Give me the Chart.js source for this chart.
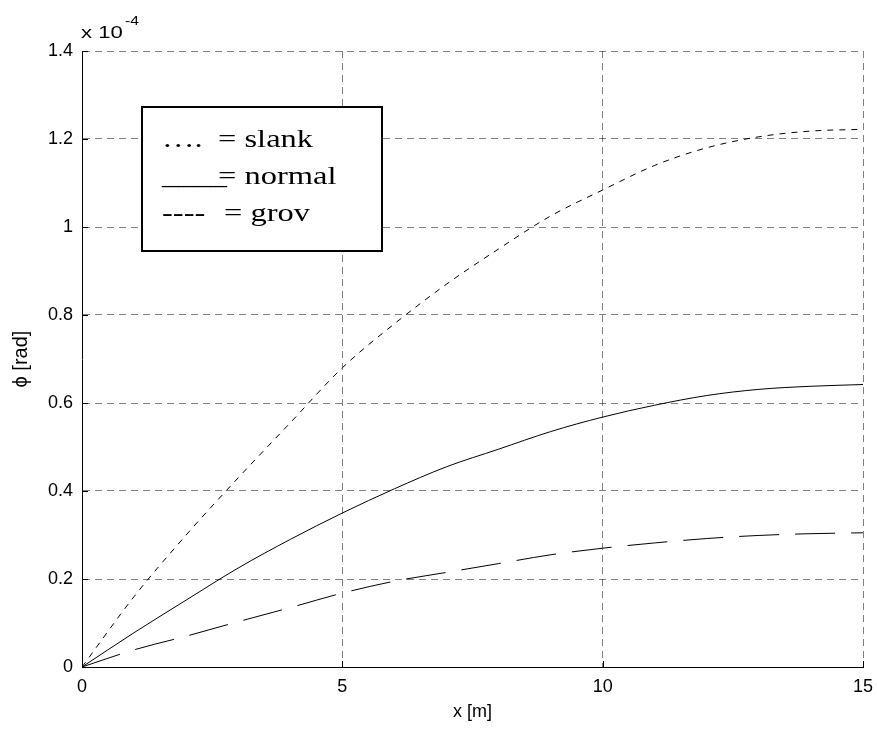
<!DOCTYPE html>
<html lang="en">
<head>
    <meta charset="UTF-8">
    <title>phi vs x</title>
    <script src="https://cdn.jsdelivr.net/npm/chart.js"></script>
    <style>
        html, body { margin: 0; padding: 0; background: #fff; }
        #wrap { width: 877px; height: 729px; }
    </style>
</head>
<body>
    <div id="wrap"><canvas id="phiChart" width="877" height="729"></canvas></div>

    <script>
        // x positions [m]
        var xValues = [0, 1, 2, 3, 4, 5, 6, 7, 8, 9, 10, 11, 12, 13, 14, 15];
        // rotation phi, in units of 1e-4 rad
        var slank  = [0, 0.16, 0.30, 0.43, 0.555, 0.68, 0.78, 0.87, 0.95, 1.025, 1.084, 1.14, 1.18, 1.205, 1.218, 1.222];
        var normal = [0, 0.078, 0.152, 0.225, 0.29, 0.35, 0.405, 0.455, 0.495, 0.535, 0.568, 0.595, 0.617, 0.631, 0.638, 0.642];
        var grov   = [0, 0.039, 0.07, 0.103, 0.135, 0.168, 0.195, 0.215, 0.235, 0.255, 0.27, 0.282, 0.292, 0.299, 0.303, 0.305];
        var yTicks = [0, 0.2, 0.4, 0.6, 0.8, 1, 1.2, 1.4];
        var xTicks = [0, 5, 10, 15];
        var legendRows = [
            { symbol: '….', label: '= slank' },
            { symbol: '____', label: '= normal' },
            { symbol: '----', label: '= grov' }
        ];

        function toPoints(ys) {
            return xValues.map(function (x, i) { return { x: x, y: ys[i] }; });
        }

        var axisFont = { family: '"Liberation Sans", Arial, sans-serif', size: 18 };

        // text in the original is a bit wider than it is tall
        function wideText(c, text, x, y, sx) {
            c.save();
            c.translate(x, y);
            c.scale(sx, 1);
            c.fillText(text, 0, 0);
            c.restore();
        }

        // small inward tick marks, the scale exponent and the boxed legend
        var extras = {
            id: 'extras',
            afterDatasetsDraw: function (chart) {
                var c = chart.ctx;
                var area = chart.chartArea;
                var xs = chart.scales.x, ys = chart.scales.y;
                c.save();
                c.strokeStyle = '#000';
                c.lineWidth = 1;
                c.setLineDash([]);
                c.beginPath();
                yTicks.forEach(function (v) {
                    var py = Math.round(ys.getPixelForValue(v)) + 0.5;
                    c.moveTo(area.left, py);
                    c.lineTo(area.left + 6, py);
                });
                xTicks.forEach(function (v) {
                    var px = Math.round(xs.getPixelForValue(v)) + 0.5;
                    c.moveTo(px, area.bottom);
                    c.lineTo(px, area.bottom - 6);
                });
                c.stroke();

                // x 10^-4
                c.fillStyle = '#000';
                c.textBaseline = 'alphabetic';
                c.font = '17px "Liberation Sans", Arial, sans-serif';
                wideText(c, 'x 10', 81, 38, 1.3);
                c.font = '12px "Liberation Sans", Arial, sans-serif';
                wideText(c, '-4', 125, 25, 1.3);

                // legend box
                c.fillStyle = '#fff';
                c.fillRect(142, 107, 240, 144);
                c.lineWidth = 2;
                c.strokeStyle = '#000';
                c.strokeRect(142, 107, 240, 144);
                c.fillStyle = '#000';
                c.font = '26px "Liberation Serif", "Times New Roman", serif';
                legendRows.forEach(function (row, i) {
                    var base = 147 + i * 37;
                    wideText(c, row.symbol, 162, base, 1.25);
                    wideText(c, row.label, i === 2 ? 224 : 218, base, 1.25);
                });
                c.restore();
            }
        };

        var ctx = document.getElementById('phiChart').getContext('2d');
        var phiChart = new Chart(ctx, {
            type: 'line',
            data: {
                datasets: [
                    {
                        label: 'slank',
                        data: toPoints(slank),
                        borderColor: '#000',
                        borderWidth: 1,
                        borderDash: [6, 6],
                        pointRadius: 0,
                        cubicInterpolationMode: 'monotone'
                    },
                    {
                        label: 'normal',
                        data: toPoints(normal),
                        borderColor: '#000',
                        borderWidth: 1,
                        pointRadius: 0,
                        cubicInterpolationMode: 'monotone'
                    },
                    {
                        label: 'grov',
                        data: toPoints(grov),
                        borderColor: '#000',
                        borderWidth: 1,
                        borderDash: [40, 16],
                        pointRadius: 0,
                        cubicInterpolationMode: 'monotone'
                    }
                ]
            },
            options: {
                responsive: false,
                animation: false,
                layout: { padding: { left: 0, top: 51, right: 14, bottom: 0 } },
                plugins: {
                    legend: { display: false },
                    tooltip: { enabled: false }
                },
                scales: {
                    x: {
                        type: 'linear',
                        min: 0,
                        max: 15,
                        afterBuildTicks: function (s) { s.ticks = xTicks.map(function (v) { return { value: v }; }); },
                        afterFit: function (s) { s.height = 62; s.paddingLeft = 0; s.paddingRight = 0; },
                        grid: { color: 'rgba(0,0,0,0.5)', lineWidth: 1, drawTicks: false, tickLength: 0 },
                        border: { display: true, color: '#000', width: 1, dash: [7, 5] },
                        ticks: { color: '#000', padding: 9, font: axisFont, maxRotation: 0 },
                        title: {
                            display: true,
                            text: 'x [m]',
                            color: '#000',
                            padding: { top: 2, bottom: 6 },
                            font: axisFont
                        }
                    },
                    y: {
                        type: 'linear',
                        min: 0,
                        max: 1.4,
                        afterBuildTicks: function (s) { s.ticks = yTicks.map(function (v) { return { value: v }; }); },
                        afterFit: function (s) { s.width = 82; s.paddingTop = 0; s.paddingBottom = 0; },
                        grid: { color: 'rgba(0,0,0,0.5)', lineWidth: 1, drawTicks: false, tickLength: 0 },
                        border: { display: true, color: '#000', width: 1, dash: [7, 5] },
                        ticks: {
                            color: '#000',
                            padding: 9,
                            font: axisFont,
                            callback: function (v) { return String(Number(v.toFixed(1))); }
                        },
                        title: {
                            display: true,
                            text: 'ϕ [rad]',
                            color: '#000',
                            padding: { top: 9, bottom: 0 },
                            font: { family: '"Liberation Sans", Arial, sans-serif', size: 20 }
                        }
                    }
                }
            },
            plugins: [extras]
        });
    </script>
</body>
</html>
